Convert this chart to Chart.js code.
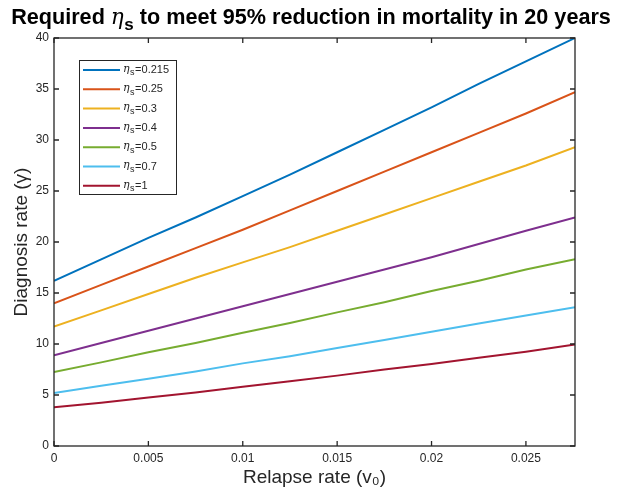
<!DOCTYPE html>
<html>
<head>
<meta charset="utf-8">
<script src="https://cdn.jsdelivr.net/npm/chart.js"></script>
<style>
  html, body { margin: 0; padding: 0; background: #fff; }
  canvas { display: block; }
</style>
</head>
<body>
<canvas id="etaChart" width="619" height="494"></canvas>
<script>
// Relapse rate (x) and required diagnosis rate per eta_s
const relapseRate = [0, 0.0025, 0.005, 0.0075, 0.01, 0.0125, 0.015, 0.0175, 0.02, 0.0225, 0.025, 0.0276];

const etaLabels = ['0.215', '0.25', '0.3', '0.4', '0.5', '0.7', '1'];

const diagEta0215 = [16.2, 18.3, 20.4, 22.4, 24.5, 26.6, 28.8, 31.0, 33.2, 35.5, 37.7, 40.0];
const diagEta025  = [14.0, 15.8, 17.6, 19.4, 21.2, 23.1, 25.0, 26.9, 28.8, 30.7, 32.6, 34.7];
const diagEta03   = [11.7, 13.3, 14.9, 16.5, 18.0, 19.5, 21.1, 22.7, 24.3, 25.9, 27.5, 29.3];
const diagEta04   = [8.9, 10.1, 11.3, 12.5, 13.7, 14.9, 16.1, 17.3, 18.5, 19.8, 21.1, 22.4];
const diagEta05   = [7.25, 8.2, 9.2, 10.1, 11.1, 12.05, 13.1, 14.1, 15.2, 16.2, 17.3, 18.3];
const diagEta07   = [5.2, 5.9, 6.6, 7.3, 8.1, 8.8, 9.6, 10.4, 11.2, 12.0, 12.8, 13.6];
const diagEta1    = [3.8, 4.25, 4.75, 5.25, 5.8, 6.35, 6.9, 7.5, 8.05, 8.65, 9.25, 9.95];

const seriesValues = [diagEta0215, diagEta025, diagEta03, diagEta04, diagEta05, diagEta07, diagEta1];
const seriesColors = ['#0072BD', '#D95319', '#EDB120', '#7E2F8E', '#77AC30', '#4DBEEE', '#A2142F'];

const xTickValues = [0, 0.005, 0.01, 0.015, 0.02, 0.025];
const xTickLabels = ['0', '0.005', '0.01', '0.015', '0.02', '0.025'];
const yTickValues = [0, 5, 10, 15, 20, 25, 30, 35, 40];
const yTickLabels = ['0', '5', '10', '15', '20', '25', '30', '35', '40'];

const AXIS_COLOR = '#262626';
const FONT = '"Liberation Sans", Arial, Helvetica, sans-serif';

// draws italic eta with subscript s, returns x after it
function drawEta(ctx, x, y, size, subSize, subDrop, bold) {
    ctx.font = 'italic ' + size + 'px "DejaVu Serif", serif';
    ctx.fillText('\u03B7', x, y);
    x += ctx.measureText('\u03B7').width + 0.5;
    ctx.font = (bold ? 'bold ' : '') + subSize + 'px ' + FONT;
    ctx.fillText('s', x, y + subDrop);
    return x + ctx.measureText('s').width;
}

// MATLAB-like box, inward ticks, title and legend
const matlabDecor = {
    id: 'matlabDecor',
    afterDraw(chart) {
        const ctx = chart.ctx;
        const area = chart.chartArea;
        const xs = chart.scales.x;
        const ys = chart.scales.y;
        ctx.save();

        // axes box
        ctx.strokeStyle = AXIS_COLOR;
        ctx.lineWidth = 1.3;
        ctx.strokeRect(area.left, area.top, area.right - area.left, area.bottom - area.top);

        // inward ticks
        const tl = 5;
        ctx.beginPath();
        xTickValues.forEach(function(v) {
            const px = xs.getPixelForValue(v);
            ctx.moveTo(px, area.bottom); ctx.lineTo(px, area.bottom - tl);
            ctx.moveTo(px, area.top); ctx.lineTo(px, area.top + tl);
        });
        yTickValues.forEach(function(v) {
            const py = ys.getPixelForValue(v);
            ctx.moveTo(area.left, py); ctx.lineTo(area.left + tl, py);
            ctx.moveTo(area.right, py); ctx.lineTo(area.right - tl, py);
        });
        ctx.stroke();

        // title, sized to span the same width as the original
        ctx.fillStyle = '#000';
        ctx.textBaseline = 'alphabetic';
        ctx.textAlign = 'left';
        const part1 = 'Required ';
        const part2 = ' to meet 95% reduction in mortality in 20 years';
        function titleWidth(sz) {
            ctx.font = 'bold ' + sz + 'px ' + FONT;
            const w = ctx.measureText(part1).width + ctx.measureText(part2).width;
            ctx.font = 'italic ' + sz + 'px "DejaVu Serif", serif';
            const we = ctx.measureText('\u03B7').width + 0.5;
            ctx.font = 'bold ' + Math.round(sz * 0.78) + 'px ' + FONT;
            return w + we + ctx.measureText('s').width;
        }
        let tSize = 19;
        tSize = tSize * 600 / titleWidth(tSize);
        const subSize = Math.round(tSize * 0.78);
        let tx = 311 - titleWidth(tSize) / 2;
        const ty = 24;
        ctx.font = 'bold ' + tSize + 'px ' + FONT;
        ctx.fillText(part1, tx, ty);
        tx += ctx.measureText(part1).width;
        tx = drawEta(ctx, tx, ty, tSize, subSize, 6, true);
        ctx.font = 'bold ' + tSize + 'px ' + FONT;
        ctx.fillText(part2, tx, ty);

        // legend
        const lx = 79, ly = 60, lw = 97, lh = 134;
        ctx.fillStyle = '#fff';
        ctx.fillRect(lx, ly, lw, lh);
        ctx.strokeStyle = AXIS_COLOR;
        ctx.lineWidth = 1;
        ctx.strokeRect(lx + 0.5, ly + 0.5, lw, lh);
        etaLabels.forEach(function(lab, i) {
            const ey = ly + 10 + i * 19.3;
            ctx.strokeStyle = seriesColors[i];
            ctx.lineWidth = 2;
            ctx.beginPath();
            ctx.moveTo(lx + 4, ey);
            ctx.lineTo(lx + 41, ey);
            ctx.stroke();
            ctx.fillStyle = AXIS_COLOR;
            ctx.textBaseline = 'middle';
            let x = drawEta(ctx, lx + 44, ey - 1, 11, 9, 4, false);
            ctx.font = '11px ' + FONT;
            ctx.fillText('=' + lab, x + 0.5, ey);
        });
        ctx.restore();
    }
};

document.addEventListener('DOMContentLoaded', function() {
    const ctx = document.getElementById('etaChart').getContext('2d');

    const datasets = seriesValues.map(function(vals, i) {
        return {
            label: 'eta_s=' + etaLabels[i],
            data: relapseRate.map(function(x, j) { return { x: x, y: vals[j] }; }),
            borderColor: seriesColors[i],
            backgroundColor: seriesColors[i],
            borderWidth: 2,
            pointRadius: 0,
            fill: false,
            tension: 0
        };
    });

    new Chart(ctx, {
        type: 'line',
        data: { datasets: datasets },
        options: {
            responsive: false,
            animation: false,
            layout: { padding: { top: 38, right: 44, left: 0, bottom: 0 } },
            plugins: {
                legend: { display: false },
                title: { display: false },
                tooltip: { enabled: false }
            },
            scales: {
                x: {
                    type: 'linear',
                    min: 0,
                    max: 0.0276,
                    afterFit: function(s) { s.height = 48; },
                    afterBuildTicks: function(s) {
                        s.ticks = xTickValues.map(function(v) { return { value: v }; });
                    },
                    ticks: {
                        callback: function(v, i) { return xTickLabels[i]; },
                        color: AXIS_COLOR,
                        font: { family: FONT, size: 12 },
                        padding: 5,
                        maxRotation: 0,
                        autoSkip: false
                    },
                    grid: { display: false, drawTicks: false },
                    border: { display: false },
                    title: {
                        display: true,
                        text: 'Relapse rate (v\u2080)',
                        color: AXIS_COLOR,
                        font: { family: FONT, size: 19 },
                        padding: { top: 0, bottom: 5 }
                    }
                },
                y: {
                    type: 'linear',
                    min: 0,
                    max: 40,
                    afterFit: function(s) { s.width = 54; },
                    afterBuildTicks: function(s) {
                        s.ticks = yTickValues.map(function(v) { return { value: v }; });
                    },
                    ticks: {
                        callback: function(v, i) { return yTickLabels[i]; },
                        color: AXIS_COLOR,
                        font: { family: FONT, size: 12 },
                        padding: 5,
                        autoSkip: false
                    },
                    grid: { display: false, drawTicks: false },
                    border: { display: false },
                    title: {
                        display: true,
                        text: 'Diagnosis rate (\u03B3)',
                        color: AXIS_COLOR,
                        font: { family: FONT, size: 19 },
                        padding: { top: 10, bottom: 0 }
                    }
                }
            }
        },
        plugins: [matlabDecor]
    });
});
</script>
</body>
</html>
